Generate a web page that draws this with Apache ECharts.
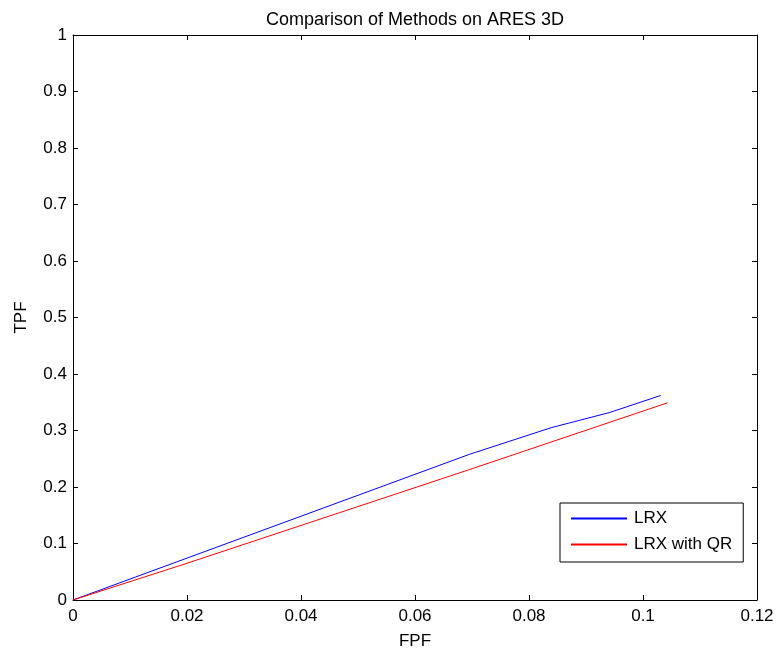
<!DOCTYPE html>
<html><head><meta charset="utf-8">
<script src="https://cdn.jsdelivr.net/npm/echarts@6/dist/echarts.min.js"></script>
<style>html,body{margin:0;padding:0;background:#fff}#c{width:782px;height:653px}</style>
</head><body><div id="c"></div>
<script>
var lrxX = [0, 0.0696, 0.0839, 0.0942, 0.1031];
var lrxY = [0, 0.258, 0.305, 0.332, 0.362];
var qrX = [0, 0.02, 0.0696, 0.1043];
var qrY = [0, 0.065, 0.231, 0.349];
var seriesNames = ['LRX', 'LRX with QR'];
var title = 'Comparison of Methods on ARES 3D';

function pairs(xs, ys){ return xs.map(function(x,i){return [x, ys[i]];}); }
var font = 'Liberation Sans, Arial, sans-serif';
var FS = 17;
var ax = {
  axisLine:{show:true,onZero:false,lineStyle:{color:'#000',width:1}},
  axisTick:{show:true,inside:true,length:5,lineStyle:{color:'#000'}},
  splitLine:{show:false},
  axisLabel:{color:'#000',fontSize:FS,fontFamily:font}
};
function mk(o){ return Object.assign(JSON.parse(JSON.stringify(ax)), o); }
var chart = echarts.init(document.getElementById('c'), null, {renderer:'canvas'});
chart.setOption({
  animation:false,
  backgroundColor:'#fff',
  title:{text:title,left:410,top:6,textAlign:'center',textStyle:{fontSize:18,fontWeight:'normal',color:'#000',fontFamily:font}},
  grid:{left:73,top:35,right:25,bottom:53,containLabel:false,outerBoundsMode:'none'},
  legend:{
    data:seriesNames, orient:'vertical', left:560, top:503,
    itemWidth:56, itemHeight:2, itemGap:9,
    padding:[7,11,9,11],
    borderColor:'#000', borderWidth:1, backgroundColor:'#fff',
    textStyle:{fontSize:FS,color:'#000',fontFamily:font,padding:[0,0,0,2]},
    icon:'rect'
  },
  xAxis:[
    mk({type:'value',min:0,max:0.12,interval:0.02,position:'bottom',name:'FPF',nameLocation:'middle',nameGap:33,
        nameTextStyle:{fontSize:FS,color:'#000',fontFamily:font},axisLabel:{color:'#000',fontSize:FS,fontFamily:font,margin:8}}),
    mk({type:'value',min:0,max:0.12,interval:0.02,position:'top',axisLabel:{show:false}})
  ],
  yAxis:[
    mk({type:'value',min:0,max:1,interval:0.1,position:'left',name:'TPF',nameLocation:'middle',nameGap:43,
        nameTextStyle:{fontSize:FS,color:'#000',fontFamily:font},axisLabel:{color:'#000',fontSize:FS,fontFamily:font,margin:6}}),
    mk({type:'value',min:0,max:1,interval:0.1,position:'right',axisLabel:{show:false}})
  ],
  series:[
    {name:seriesNames[0],type:'line',data:pairs(lrxX,lrxY),showSymbol:false,symbol:'none',lineStyle:{color:'#0000ff',width:1},itemStyle:{color:'#0000ff'}},
    {name:seriesNames[1],type:'line',data:pairs(qrX,qrY),showSymbol:false,symbol:'none',lineStyle:{color:'#ff0000',width:1},itemStyle:{color:'#ff0000'}}
  ]
});
</script></body></html>
